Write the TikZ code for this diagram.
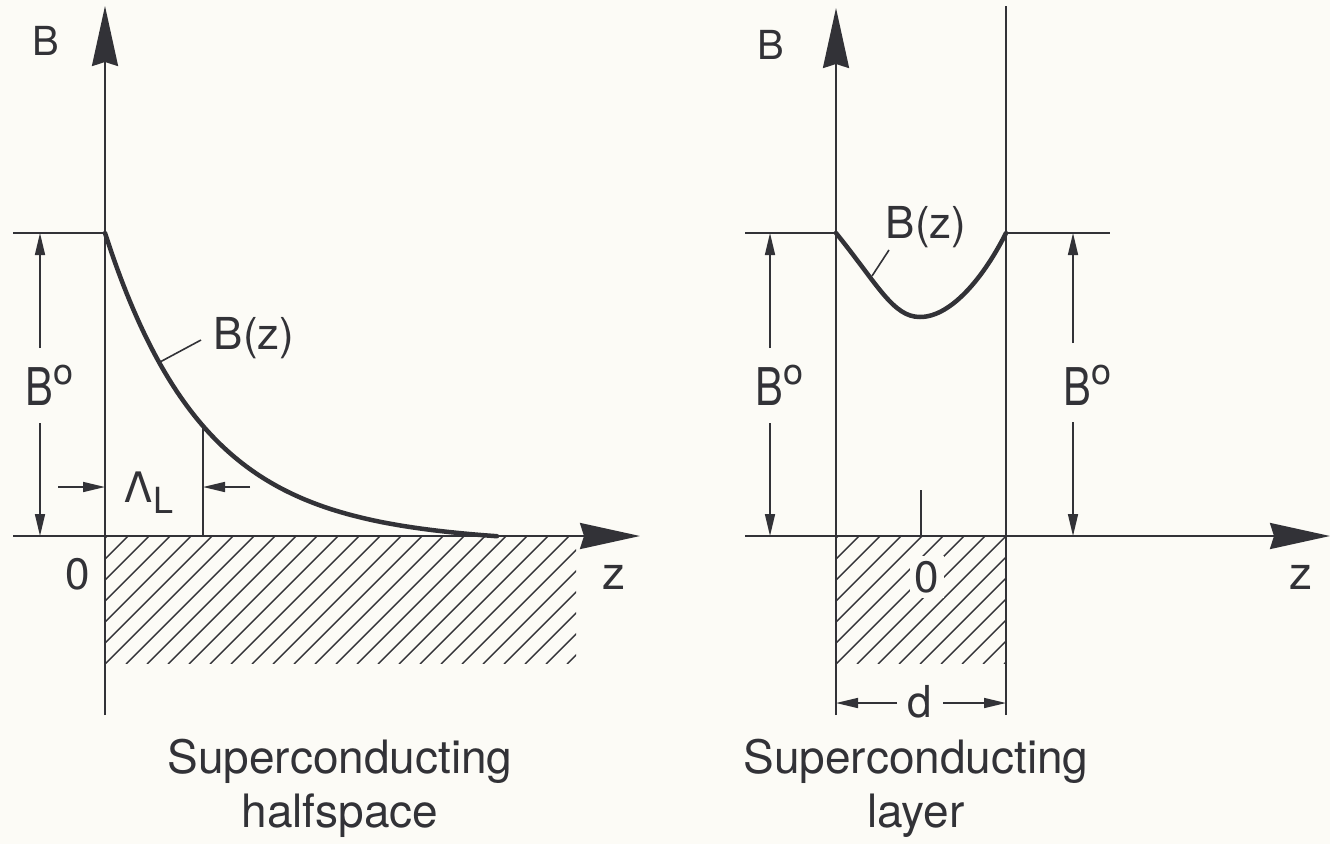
\documentclass[tikz,border=0pt]{standalone}
\usepackage{fontspec}
\setmainfont{TeX Gyre Heros}
\usetikzlibrary{arrows.meta}
\definecolor{ink}{RGB}{50,50,55}
\definecolor{paper}{RGB}{252,251,246}
\newcommand{\Bnought}{\scalebox{0.8}[1]{\fontsize{52}{52}\selectfont B}\kern1pt\raisebox{21pt}{\fontsize{36}{36}\selectfont o}}
\begin{document}
\begin{tikzpicture}[x=1pt,y=-1pt,
  axisline/.style={draw=ink,line width=2.4pt,-{Stealth[length=60pt,width=26pt,inset=4pt]}},
  dimline/.style={draw=ink,line width=1.6pt},
  dimarrow/.style={draw=ink,line width=1.6pt,-{Triangle[length=22pt,width=10pt]}},
  fieldcurve/.style={draw=ink,line width=4.5pt,line cap=round},
  hatchline/.style={draw=ink,line width=1.4pt},
  lab/.style={text=ink,font=\fontsize{40}{44}\selectfont,inner sep=0pt},
  bzlab/.style={text=ink,font=\fontsize{44}{46}\selectfont,inner sep=0pt},
  caption/.style={text=ink,font=\fontsize{46}{54}\selectfont,align=center,inner sep=0pt},
]
\useasboundingbox (0,0) rectangle (1330,844);
\fill[paper] (0,0) rectangle (1330,844);

% ---------------- Left panel: superconducting halfspace ----------------
\coordinate (Lo) at (105,536);
\coordinate (Lbot) at (105,715);
\coordinate (Ltop) at (105,6);
\coordinate (Lzs) at (13,536);
\coordinate (Lze) at (640,536);
\coordinate (Llev) at (13,233);
\coordinate (Lk) at (105,233);

% hatch
\begin{scope}
  \clip (105,537) rectangle (576,663);
  \foreach \i in {-7,...,23}
    \draw[hatchline] (105+\i*21,664) -- ++(130,-130);
\end{scope}

\draw[axisline] (Lbot) -- (Ltop);
\draw[axisline] (Lzs) -- (Lze);
\draw[dimline] (Llev) -- (Lk);

% B(z) curve
\draw[fieldcurve] plot[smooth,samples=70,domain=0:392] ({105+\x},{536-303*(exp(-\x/98)-0.019*\x/392)});

% lambda line
\coordinate (Lam) at (203,536);
\coordinate (LamTop) at (203,426);
\draw[dimline] (Lam) -- (LamTop);
\coordinate (LaL) at (58,487);
\coordinate (LaLt) at (105,487);
\coordinate (LaR) at (250,487);
\coordinate (LaRt) at (203,487);
\draw[dimarrow] (LaL) -- (LaLt);
\draw[dimarrow] (LaR) -- (LaRt);
\node[lab,anchor=base west] (lamlab) at (124,502) {\fontsize{42}{44}\selectfont Λ\kern1pt\raisebox{-11pt}{\fontsize{36}{36}\selectfont L}};

% B0 dimension
\coordinate (Ld1) at (40,348);
\coordinate (Ld1t) at (40,233);
\coordinate (Ld2) at (40,423);
\coordinate (Ld2t) at (40,536);
\draw[dimarrow] (Ld1) -- (Ld1t);
\draw[dimarrow] (Ld2) -- (Ld2t);
\node[lab,anchor=base west] (LB0) at (25,405) {\Bnought};

% B(z) label + leader
\node[bzlab] (LBz) at (254,338) {B(z)};
\coordinate (Lle1) at (160,362);
\coordinate (Lle2) at (201,340);
\draw[dimline] (Lle1) -- (Lle2);

\node[lab] (LB) at (46,41) {B};
\node[lab,font=\fontsize{44}{44}\selectfont] (L0) at (78,574) {0};
\node[lab,font=\fontsize{46}{46}\selectfont] (Lz) at (614,577) {z};

\node[caption] (Lcap) at (340,788) {Superconducting\\halfspace};

% ---------------- Right panel: superconducting layer ----------------
\coordinate (Ro) at (836,536);
\coordinate (Rbot) at (836,715);
\coordinate (Rtop) at (836,8);
\coordinate (Rv2b) at (1006,715);
\coordinate (Rv2t) at (1006,6);
\coordinate (Rzs) at (745,536);
\coordinate (Rze) at (1330,536);

\begin{scope}
  \clip (836,537) rectangle (1006,663);
  \foreach \i in {-7,...,9}
    \draw[hatchline] (836+\i*21,664) -- ++(130,-130);
\end{scope}

\draw[axisline] (Rbot) -- (Rtop);
\draw[dimline] (Rv2b) -- (Rv2t);
\draw[axisline] (Rzs) -- (Rze);

\coordinate (Rl1) at (745,233);
\coordinate (Rl2) at (836,233);
\coordinate (Rl3) at (1006,233);
\coordinate (Rl4) at (1110,233);
\draw[dimline] (Rl1) -- (Rl2);
\draw[dimline] (Rl3) -- (Rl4);

\draw[fieldcurve] (Rl2) .. controls (878,285) and (893,317) .. (920,317)
                        .. controls (952,317) and (985,275) .. (Rl3);

% tick at center
\coordinate (Rt1) at (921,536);
\coordinate (Rt2) at (921,490);
\draw[dimline] (Rt1) -- (Rt2);

% B0 dimensions
\coordinate (Ra1) at (770,348);
\coordinate (Ra1t) at (770,233);
\coordinate (Ra2) at (770,423);
\coordinate (Ra2t) at (770,536);
\draw[dimarrow] (Ra1) -- (Ra1t);
\draw[dimarrow] (Ra2) -- (Ra2t);
\node[lab,anchor=base west] (RB0a) at (755,405) {\Bnought};

\coordinate (Rb1) at (1073,343);
\coordinate (Rb1t) at (1073,233);
\coordinate (Rb2) at (1073,422);
\coordinate (Rb2t) at (1073,536);
\draw[dimarrow] (Rb1) -- (Rb1t);
\draw[dimarrow] (Rb2) -- (Rb2t);
\node[lab,anchor=base west] (RB0b) at (1063,405) {\Bnought};

% B(z) label + leader
\node[bzlab] (RBz) at (926,227) {B(z)};
\coordinate (Rle1) at (872,276);
\coordinate (Rle2) at (889,250);
\draw[dimline] (Rle1) -- (Rle2);

% d dimension
\coordinate (Rd1) at (897,703);
\coordinate (Rd1t) at (836,703);
\coordinate (Rd2) at (943,703);
\coordinate (Rd2t) at (1006,703);
\draw[dimarrow] (Rd1) -- (Rd1t);
\draw[dimarrow] (Rd2) -- (Rd2t);
\node[lab,font=\fontsize{44}{44}\selectfont] (Rd) at (920,702) {d};

\node[lab] (RB) at (771,45) {B};
\node[lab,font=\fontsize{44}{44}\selectfont,fill=paper,inner sep=5pt] (R0) at (927,577) {0};
\node[lab,font=\fontsize{46}{46}\selectfont] (Rz) at (1301,577) {z};

\node[caption] (Rcap) at (916,788) {Superconducting\\layer};
\end{tikzpicture}
\end{document}
